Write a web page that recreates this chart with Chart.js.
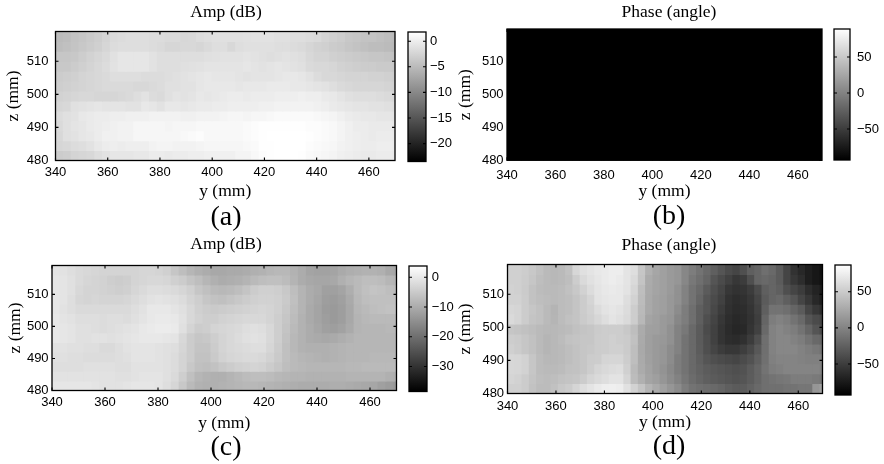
<!DOCTYPE html>
<html>
<head>
<meta charset="utf-8">
<title>Amp and phase maps</title>
<script src="https://cdn.jsdelivr.net/npm/chart.js@4"></script>
<style>
  body { margin: 0; background: #fff; }
  canvas { position: absolute; }
</style>
</head>
<body>
<script>
// grid of the scan, in mm
const yCols = [340,343,346,349,352,355,358,361,364,367,370,373,376,379,382,385,388,391,394,397,400,403,406,409,412,415,418,421,424,427,430,433,436,439,442,445,448,451,454,457,460,463,466,469];
const zEdges = [520,516,513,510,507,504,501,498,495,492,489,486,483,480];
const xTicks = [340,360,380,400,420,440,460];
const zTicks = [480,490,500,510];

const barTicksA = [0,-5,-10,-15,-20];
const barTicksB = [50,0,-50];
const barTicksC = [0,-10,-20,-30];
const barTicksD = [50,0,-50];

const climA = [-23.5,1.8];
const climB = [-93,89];
const climC = [-38.4,3.8];
const climD = [-93,87];

// rows run from the top of the plot (z = 519) to the bottom (z = 480)
const ampA = [
  [-4.9,-4.7,-4.2,-3.9,-3.5,-3.1,-2.5,-1.9,-1.7,-1.5,-1.5,-1.5,-1.7,-1.7,-1.9,-1.9,-2.2,-2.1,-1.7,-1.5,-1.3,-1.3,-1.3,-1.3,-1.2,-1.1,-1.1,-1.1,-1.3,-1.3,-1.5,-1.5,-1.7,-1.9,-2.5,-2.9,-3.2,-3.7,-3.9,-4.2,-4.2,-4.5,-4.7,-4.9],
  [-4.7,-4.5,-4.1,-3.7,-3.3,-2.9,-2.3,-1.7,-1.5,-1.5,-1.5,-1.5,-1.7,-1.9,-2.3,-2.3,-2.1,-2.1,-2.3,-1.9,-1.5,-1.5,-2.1,-1.5,-1.3,-1.3,-1.3,-1.3,-1.5,-1.5,-1.7,-1.9,-2.3,-2.7,-2.9,-3.3,-3.5,-3.9,-4.2,-4.5,-4.7,-4.7,-4.9,-5.1],
  [-3.9,-3.9,-3.7,-3.2,-2.7,-2.3,-1.9,-1.2,-0.7,-0.7,-0.7,-0.7,-1.1,-1.5,-1.5,-1.5,-1.5,-1.5,-1.5,-1.3,-1.2,-1.1,-1.1,-1.1,-0.9,-1.1,-1.3,-1.5,-1.3,-1.1,-1.3,-1.5,-2.1,-2.5,-2.5,-2.9,-3.1,-3.3,-3.5,-3.7,-3.9,-3.9,-4.1,-4.3],
  [-3.7,-3.7,-3.3,-2.9,-2.5,-2.1,-1.7,-1.1,-0.7,-0.7,-0.7,-0.7,-1.1,-1.5,-1.5,-1.5,-1.3,-1.2,-1.1,-0.9,-0.9,-0.9,-0.9,-0.9,-0.7,-0.9,-1.1,-0.9,-0.7,-0.9,-1.1,-1.3,-1.9,-2.1,-2.1,-2.3,-2.7,-2.9,-3.1,-3.3,-3.3,-3.5,-3.5,-3.7],
  [-3.3,-3.1,-2.9,-2.5,-2.3,-2.1,-1.9,-1.5,-1.5,-1.5,-1.5,-1.7,-1.7,-1.7,-1.5,-1.3,-1.1,-0.9,-0.7,-0.5,-0.7,-0.7,-0.7,-0.9,-1.1,-0.9,-0.9,-0.9,-0.7,-0.5,-0.5,-0.7,-1.1,-1.7,-2.1,-2.1,-2.3,-2.5,-2.5,-2.5,-2.7,-2.7,-2.9,-3.1],
  [-3.1,-2.9,-2.7,-2.5,-2.3,-2.1,-1.9,-1.9,-1.9,-1.9,-2.1,-2.1,-1.9,-1.7,-1.3,-1.3,-1.1,-1.1,-0.7,-0.5,-0.5,-0.5,-0.5,-0.7,-0.5,-0.5,-0.5,-0.3,-0.3,-0.3,-0.5,-0.5,-0.7,-0.9,-1.1,-1.5,-1.9,-2.1,-2.3,-2.3,-2.3,-2.3,-2.5,-2.7],
  [-2.7,-2.5,-2.3,-2.1,-2.1,-2.3,-2.3,-2.3,-2.1,-1.9,-1.5,-1.1,-1.7,-1.9,-1.3,-0.9,-1.1,-0.9,-0.5,-0.7,-0.5,-0.3,-0.1,-0.1,-0.3,-0.1,-0.1,-0.1,0.1,0.1,0.1,0.3,0.1,0.1,-0.3,-0.5,-0.9,-1.3,-1.5,-1.5,-1.5,-1.7,-1.9,-2.1],
  [-2.3,-2.1,-1.3,-1.1,-0.9,-0.7,-0.9,-0.9,-0.9,-1.1,-1.1,-0.5,-0.7,-1.1,-0.5,-0.5,-0.7,-0.5,-0.3,-0.3,-0.1,-0.1,0.1,0.1,0.1,0.1,0.3,0.3,0.5,0.5,0.5,0.5,0.5,0.3,0.1,-0.3,-0.5,-0.7,-0.9,-0.9,-1.1,-1.1,-1.3,-1.5],
  [-1.7,-1.3,-1.1,-0.5,-0.3,-0.1,-0.1,0.1,0.1,0.3,0.3,0.3,0.5,0.5,0.5,0.5,0.3,0.3,0.5,0.5,0.5,0.7,0.9,0.9,0.7,0.9,0.9,1.1,1.3,1.3,1.3,1.3,1.3,1.1,0.9,0.7,0.3,-0.1,-0.3,-0.5,-0.5,-0.7,-0.7,-0.9],
  [-1.9,-1.3,-0.9,-0.7,-0.3,-0.1,0.1,0.3,0.5,0.5,0.9,0.9,0.9,0.9,0.7,0.9,0.9,0.9,1.1,1.1,1.1,1.1,1.1,1.1,1.3,1.5,1.7,1.7,1.7,1.7,1.7,1.7,1.5,1.5,1.3,1.1,0.7,0.3,-0.1,-0.1,-0.3,-0.3,-0.3,-0.5],
  [-2.1,-1.3,-1.1,-0.7,-0.5,-0.1,0.3,0.3,0.5,0.5,0.9,0.9,0.9,0.9,0.9,0.9,1.1,1.3,1.5,1.1,1.1,1.1,1.1,1.1,1.3,1.5,1.7,1.8,1.8,1.8,1.8,1.8,1.7,1.5,1.3,1.1,0.7,0.3,0.1,-0.1,-0.3,-0.1,-0.1,-0.3],
  [-2.3,-2.1,-1.7,-1.5,-1.1,-0.5,-0.1,0.1,-0.1,0.1,0.1,0.1,0.5,0.7,0.7,0.5,0.5,0.5,0.7,0.9,0.9,0.9,0.9,0.9,1.1,1.3,1.7,1.7,1.8,1.8,1.8,1.8,1.5,1.3,1.1,0.9,0.5,0.3,0.1,-0.1,-0.1,0.1,0.1,-0.1],
  [-3.3,-3.1,-2.5,-2.3,-2.1,-1.5,-1.1,-0.7,-0.7,-0.7,-0.5,-0.5,-0.1,-0.1,-0.3,-0.1,-0.1,0.1,0.1,0.3,0.3,0.3,0.3,0.7,0.7,1.1,1.5,1.7,1.8,1.8,1.8,1.7,1.3,1.1,0.9,0.7,0.3,0.1,-0.1,-0.3,-0.3,-0.1,-0.1,-0.3]
];

const phaseB = [
  [-93,-93,-93,-93,-93,-93,-93,-93,-93,-93,-93,-93,-93,-93,-93,-93,-93,-93,-93,-93,-93,-93,-93,-93,-93,-93,-93,-93,-93,-93,-93,-93,-93,-93,-93,-93,-93,-93,-93,-93,-93,-93,-93,-93],
  [-93,-93,-93,-93,-93,-93,-93,-93,-93,-93,-93,-93,-93,-93,-93,-93,-93,-93,-93,-93,-93,-93,-93,-93,-93,-93,-93,-93,-93,-93,-93,-93,-93,-93,-93,-93,-93,-93,-93,-93,-93,-93,-93,-93],
  [-93,-93,-93,-93,-93,-93,-93,-93,-93,-93,-93,-93,-93,-93,-93,-93,-93,-93,-93,-93,-93,-93,-93,-93,-93,-93,-93,-93,-93,-93,-93,-93,-93,-93,-93,-93,-93,-93,-93,-93,-93,-93,-93,-93],
  [-93,-93,-93,-93,-93,-93,-93,-93,-93,-93,-93,-93,-93,-93,-93,-93,-93,-93,-93,-93,-93,-93,-93,-93,-93,-93,-93,-93,-93,-93,-93,-93,-93,-93,-93,-93,-93,-93,-93,-93,-93,-93,-93,-93],
  [-93,-93,-93,-93,-93,-93,-93,-93,-93,-93,-93,-93,-93,-93,-93,-93,-93,-93,-93,-93,-93,-93,-93,-93,-93,-93,-93,-93,-93,-93,-93,-93,-93,-93,-93,-93,-93,-93,-93,-93,-93,-93,-93,-93],
  [-93,-93,-93,-93,-93,-93,-93,-93,-93,-93,-93,-93,-93,-93,-93,-93,-93,-93,-93,-93,-93,-93,-93,-93,-93,-93,-93,-93,-93,-93,-93,-93,-93,-93,-93,-93,-93,-93,-93,-93,-93,-93,-93,-93],
  [-93,-93,-93,-93,-93,-93,-93,-93,-93,-93,-93,-93,-93,-93,-93,-93,-93,-93,-93,-93,-93,-93,-93,-93,-93,-93,-93,-93,-93,-93,-93,-93,-93,-93,-93,-93,-93,-93,-93,-93,-93,-93,-93,-93],
  [-93,-93,-93,-93,-93,-93,-93,-93,-93,-93,-93,-93,-93,-93,-93,-93,-93,-93,-93,-93,-93,-93,-93,-93,-93,-93,-93,-93,-93,-93,-93,-93,-93,-93,-93,-93,-93,-93,-93,-93,-93,-93,-93,-93],
  [-93,-93,-93,-93,-93,-93,-93,-93,-93,-93,-93,-93,-93,-93,-93,-93,-93,-93,-93,-93,-93,-93,-93,-93,-93,-93,-93,-93,-93,-93,-93,-93,-93,-93,-93,-93,-93,-93,-93,-93,-93,-93,-93,-93],
  [-93,-93,-93,-93,-93,-93,-93,-93,-93,-93,-93,-93,-93,-93,-93,-93,-93,-93,-93,-93,-93,-93,-93,-93,-93,-93,-93,-93,-93,-93,-93,-93,-93,-93,-93,-93,-93,-93,-93,-93,-93,-93,-93,-93],
  [-93,-93,-93,-93,-93,-93,-93,-93,-93,-93,-93,-93,-93,-93,-93,-93,-93,-93,-93,-93,-93,-93,-93,-93,-93,-93,-93,-93,-93,-93,-93,-93,-93,-93,-93,-93,-93,-93,-93,-93,-93,-93,-93,-93],
  [-93,-93,-93,-93,-93,-93,-93,-93,-93,-93,-93,-93,-93,-93,-93,-93,-93,-93,-93,-93,-93,-93,-93,-93,-93,-93,-93,-93,-93,-93,-93,-93,-93,-93,-93,-93,-93,-93,-93,-93,-93,-93,-93,-93],
  [-93,-93,-93,-93,-93,-93,-93,-93,-93,-93,-93,-93,-93,-93,-93,-93,-93,-93,-93,-93,-93,-93,-93,-93,-93,-93,-93,-93,-93,-93,-93,-93,-93,-93,-93,-93,-93,-93,-93,-93,-93,-93,-93,-93]
];

const ampC = [
  [-0.7,-1,-1.7,-2.3,-2.7,-3,-3.3,-3.3,-3.3,-3.3,-3.3,-3,-3,-3.3,-4,-5.6,-7,-8.3,-9.3,-9.9,-10.6,-10.6,-10.3,-10.3,-9.9,-9.3,-9,-8.3,-8,-8,-9,-9.9,-11.3,-11.6,-11.6,-11.3,-10.3,-9.6,-9.3,-9,-9,-9.3,-10.6,-10.9],
  [-0.3,-0.7,-1.3,-2.3,-3,-3.3,-3.6,-4.3,-4.6,-4.3,-3.3,-3,-2.7,-2.7,-3,-4,-4.6,-6,-7,-8.3,-9.3,-9.9,-9.6,-9.3,-8.6,-7.6,-7,-6.6,-6.6,-7.3,-8.6,-9.9,-10.6,-10.9,-10.9,-10.6,-9.3,-8.3,-7.6,-7,-7,-7.3,-8.3,-8.6],
  [-0.3,-0.7,-1.3,-2.7,-3.3,-3.3,-3.6,-4,-4.3,-4,-3,-2.3,-1.7,-1.7,-2,-2.3,-3,-4,-5.6,-6.6,-7.6,-8,-7.6,-7,-6,-4.6,-4,-4,-4.3,-5.3,-7,-8.6,-9.9,-10.6,-11.9,-11.9,-11.3,-9.6,-7.6,-6.6,-6,-6.3,-7,-7.3],
  [-0.3,-0.7,-1.7,-3,-3.3,-3,-3.3,-3.3,-3.3,-3,-2.3,-1.7,-1,-0.7,-1,-1.3,-2,-3.3,-4.3,-5.6,-6.3,-6.6,-6,-5.3,-4.6,-4,-3.6,-3.6,-4,-5,-6.6,-8.6,-9.9,-10.9,-12.3,-12.6,-11.9,-10.3,-8,-7,-6.6,-6.6,-6.6,-6.6],
  [-0.3,-1,-1.7,-2.3,-2.3,-2.3,-2.3,-2.3,-2.3,-2.3,-1.7,-1,0,0,0,-0.7,-1.3,-2.7,-4,-4.6,-5,-4.6,-4.3,-4,-3.6,-3.3,-3,-3.3,-4,-5.3,-7,-8.6,-10.3,-11.3,-12.6,-12.9,-12.3,-10.6,-8.3,-7.6,-7,-6.6,-6.3,-6.3],
  [0,-0.7,-1,-1.7,-1.7,-1.7,-2,-1.7,-1.7,-2,-1.3,-0.7,0,0.3,0.3,0,-1,-2.7,-3.6,-4.3,-4.3,-3.6,-3.3,-3,-2.7,-2.7,-2.7,-3.3,-4.3,-5.6,-7.3,-9,-10.3,-11.3,-12.3,-12.9,-12.3,-10.6,-8.6,-8,-7.6,-7.6,-7.6,-7.6],
  [0,-0.3,-0.7,-1.3,-1.3,-1.7,-2,-1.7,-1.3,-1,-0.7,0,0.3,0.7,0.7,0.3,-1.3,-3.3,-4.6,-4.3,-3.3,-3,-2.7,-2.3,-1.7,-1.3,-1.7,-2.7,-4.3,-6,-7.6,-9,-9.9,-10.9,-11.9,-12.3,-11.6,-10.3,-8.6,-8.3,-8.3,-8.3,-8,-8],
  [0,-0.3,-0.7,-1.3,-1.3,-1,-1,-1.3,-1,-0.7,-0.3,0,0,0,-0.3,-0.7,-2.7,-4.6,-5.6,-5.3,-4.3,-3.3,-2.7,-2,-1.3,-1,-1.3,-2.7,-4.3,-6.3,-8,-9,-9.9,-10.3,-10.6,-10.3,-9.6,-9,-8.3,-8.3,-8.3,-8.3,-8.3,-8.3],
  [-1,-1,-1.3,-1.3,-1.7,-1.7,-2.3,-2.3,-1.7,-1,-0.7,-0.7,-0.7,-1,-1.3,-1.7,-3,-4.6,-6,-6,-4.6,-3.3,-2.7,-2.3,-2,-1.7,-1.7,-3,-4.6,-6.6,-8,-9,-9.3,-9.3,-9.3,-9,-8.6,-8.3,-8.3,-8.3,-8.3,-8.3,-8.3,-8.3],
  [-1.3,-1.3,-1.7,-1.7,-2,-2,-2,-2,-1.7,-1.3,-0.7,-0.7,-0.7,-1,-1.3,-2,-3.3,-4.6,-6.3,-6.3,-5,-3.6,-3,-2.7,-2.3,-2.3,-2.7,-3.6,-5,-6.6,-7.6,-8.3,-8.6,-9,-9.3,-9,-8.6,-8.3,-8.3,-8.3,-8,-8,-8,-8],
  [-1.7,-1.7,-1.7,-1.7,-1.3,-1.3,-1.3,-1.3,-1.7,-1.7,-1,-1,-1,-1,-1.3,-2,-3.3,-5.3,-6.6,-7,-6.3,-5.3,-4.6,-4,-3.6,-3.3,-3.6,-4.6,-5.6,-7,-7.6,-8,-8.3,-8.3,-8.3,-8.3,-8.3,-8,-8,-7.6,-7.6,-7.6,-7.6,-7.6],
  [-1,-1,-1,-1,-1,-1,-1,-1,-1.3,-1.3,-1,-0.7,-0.7,-0.7,-1.3,-2.3,-4.3,-6.6,-8.3,-9,-9.3,-9.3,-8.6,-8,-7.3,-7,-7,-7.3,-8,-8.3,-8.6,-8.6,-9,-9,-9,-9,-9,-8.6,-8.6,-8.6,-8.6,-8.6,-9.3,-9.6],
  [-0.3,-0.3,-0.3,-0.3,-0.3,-0.7,-1,-1,-1,-0.7,-0.3,-0.3,-0.3,-0.7,-1.7,-3,-5.3,-7.6,-9,-9.3,-9.3,-9,-8.6,-8.3,-8,-8,-8.3,-8.6,-9,-9.3,-9.6,-9.9,-9.9,-9.9,-9.9,-9.6,-9.6,-9.9,-10.3,-10.6,-10.9,-11.9,-12.6,-13.2]
];

const phaseD = [
  [54,54,52,48,43,38,37,38,43,59,65,68,71,72,74,74,68,64,47,31,24,20,16,13,2,-5,-12,-19,-26,-33,-40,-44,-37,-26,-22,-15,-19,-29,-44,-58,-65,-72,-77,-82],
  [54,54,51,47,41,38,37,38,41,52,61,66,69,72,74,72,68,61,45,28,23,20,16,13,2,-8,-15,-22,-33,-40,-47,-54,-51,-37,-22,-19,-22,-29,-44,-54,-61,-72,-77,-80],
  [55,54,50,44,40,38,38,40,43,48,55,62,68,71,72,71,67,58,41,27,23,20,16,9,-1,-12,-19,-29,-37,-44,-54,-58,-56,-51,-40,-26,-22,-26,-37,-44,-51,-61,-68,-75],
  [55,55,51,44,41,40,38,40,41,45,51,57,67,69,71,71,64,55,40,26,21,19,14,9,-1,-12,-22,-33,-40,-47,-58,-61,-59,-54,-44,-29,-22,-19,-26,-33,-44,-54,-65,-72],
  [59,57,51,47,43,38,34,40,41,45,51,55,62,67,69,67,62,52,38,26,21,19,14,6,-5,-15,-26,-33,-42,-51,-59,-63,-61,-56,-47,-26,-12,-12,-15,-22,-29,-44,-54,-61],
  [61,57,51,45,43,38,35,40,43,45,50,54,59,64,68,65,61,52,37,23,20,16,13,2,-5,-15,-26,-37,-45,-54,-61,-65,-63,-58,-49,-22,-5,-1,-5,-12,-19,-33,-40,-45],
  [47,45,43,41,38,37,37,38,40,43,45,47,50,52,52,52,48,41,28,20,19,16,9,-1,-8,-19,-29,-40,-47,-56,-63,-66,-65,-56,-47,-19,-1,2,-1,-5,-12,-22,-33,-40],
  [52,50,47,43,38,35,37,40,44,45,47,47,51,52,54,52,50,43,27,19,16,14,9,-1,-12,-19,-29,-38,-47,-56,-61,-63,-59,-51,-38,-15,-1,2,2,-1,-5,-12,-19,-22],
  [54,51,47,43,38,35,37,38,41,44,47,48,51,52,54,54,50,41,26,19,16,13,6,-1,-12,-19,-28,-37,-44,-51,-54,-54,-49,-42,-31,-15,-1,2,2,2,-1,-5,-8,-12],
  [59,58,55,47,40,37,37,38,41,44,47,51,52,57,58,58,52,41,27,20,16,13,6,-5,-12,-19,-26,-33,-37,-40,-42,-44,-40,-35,-26,-14,-3,0,0,0,-1,-3,-3,-3],
  [59,58,55,47,40,38,38,40,43,44,47,52,57,60,62,64,54,38,28,21,16,11,4,-5,-12,-19,-24,-28,-31,-33,-35,-37,-35,-29,-22,-12,-5,-3,0,0,0,0,0,-3],
  [57,55,51,45,41,40,41,44,45,47,51,57,61,64,67,67,57,40,31,23,19,13,6,-1,-10,-17,-22,-26,-29,-31,-33,-35,-33,-28,-22,-15,-12,-10,-8,-5,-5,-5,-7,-10],
  [54,54,51,44,40,40,43,48,51,57,64,68,72,75,76,74,66,55,45,34,27,20,13,6,-5,-12,-15,-17,-19,-22,-26,-29,-28,-24,-19,-15,-14,-14,-12,-12,-10,-10,13,20]
];

const panels = [
  { title: "Amp (dB)", letter: "(a)", rows: ampA, clim: climA, barTicks: barTicksA, zMax: 519,
    left: 0, top: 0, width: 452, plot: { l: 55.5, r: 395, t: 31.5, b: 160.5 }, bar: { l: 408, r: 426, t: 31.5, b: 161 },
    titleY: 12.3, xTickY: 171, xLabelY: 191, letterY: 218, zLabelX: 13.3, zTickGap: 7, barGap: 4 },
  { title: "Phase (angle)", letter: "(b)", rows: phaseB, clim: climB, barTicks: barTicksB, zMax: 520,
    left: 455, top: 0, width: 428, plot: { l: 507, r: 822, t: 29, b: 160 }, bar: { l: 834, r: 850, t: 29, b: 160 },
    titleY: 12, xTickY: 174, xLabelY: 190.7, letterY: 216.7, zLabelX: 465.3, zTickGap: 3.4, barGap: 7 },
  { title: "Amp (dB)", letter: "(c)", rows: ampC, clim: climC, barTicks: barTicksC, zMax: 519,
    left: 0, top: 232, width: 452, plot: { l: 52, r: 396.5, t: 265.5, b: 390.5 }, bar: { l: 409, r: 427, t: 265.5, b: 391 },
    titleY: 244.7, xTickY: 400.7, xLabelY: 423, letterY: 448, zLabelX: 15, zTickGap: 3.4, barGap: 4.7 },
  { title: "Phase (angle)", letter: "(d)", rows: phaseD, clim: climD, barTicks: barTicksD, zMax: 519,
    left: 455, top: 232, width: 428, plot: { l: 507.5, r: 822.5, t: 264.5, b: 393.5 }, bar: { l: 835, r: 851, t: 264.5, b: 394.5 },
    titleY: 245.3, xTickY: 405.3, xLabelY: 422, letterY: 447, zLabelX: 465.3, zTickGap: 3.4, barGap: 6 }
];

const SANS = "'Liberation Sans', Arial, sans-serif";
const SERIF = "'Liberation Serif', 'Times New Roman', serif";
const TICK_SIZE = 13;
const LABEL_SIZE = 17.5;
const LETTER_SIZE = 28;

function grayFor(value, clim) {
  const level = Math.round(255 * (value - clim[0]) / (clim[1] - clim[0]));
  const g = Math.max(0, Math.min(255, level));
  return "rgb(" + g + "," + g + "," + g + ")";
}

function addCanvas(left, top, width, height) {
  const canvas = document.createElement("canvas");
  canvas.width = width;
  canvas.height = height;
  canvas.style.left = left + "px";
  canvas.style.top = top + "px";
  document.body.appendChild(canvas);
  return canvas;
}

// matlab style box: frame plus short ticks pointing inwards on all sides
const boxFrame = {
  id: "boxFrame",
  afterDatasetsDraw(chart) {
    const { ctx, chartArea: a, scales } = chart;
    const len = 3;
    ctx.save();
    ctx.strokeStyle = "#000";
    ctx.lineWidth = 1.1;
    ctx.beginPath();
    if (scales.x.options.display) {
      scales.x.ticks.forEach((t) => {
        const px = scales.x.getPixelForValue(t.value);
        ctx.moveTo(px, a.top);
        ctx.lineTo(px, a.top + len);
        ctx.moveTo(px, a.bottom);
        ctx.lineTo(px, a.bottom - len);
      });
    }
    scales.y.ticks.forEach((t) => {
      const py = scales.y.getPixelForValue(t.value);
      ctx.moveTo(a.left, py);
      ctx.lineTo(a.left + len, py);
      ctx.moveTo(a.right, py);
      ctx.lineTo(a.right - len, py);
    });
    ctx.stroke();
    ctx.lineWidth = 1.3;
    ctx.strokeRect(a.left, a.top, a.right - a.left, a.bottom - a.top);
    ctx.restore();
  },
};

function drawHeatmap(p) {
  const height = Math.round(p.letterY + LETTER_SIZE / 2 - p.top);
  const canvas = addCanvas(p.left, p.top, p.width, height);
  const titlePadTop = p.titleY - LABEL_SIZE / 2 - p.top;
  const letterTop = p.letterY - LETTER_SIZE / 2;

  // one floating-bar dataset per z row
  const datasets = p.rows.map((row, r) => ({
    data: row.map((v, c) => ({ x: yCols[c] + 1.5, y: [zEdges[r + 1], zEdges[r]] })),
    backgroundColor: row.map((v) => grayFor(v, p.clim)),
    borderWidth: 0,
    inflateAmount: 0.5,
    barPercentage: 1,
    categoryPercentage: 1,
    grouped: false,
  }));

  new Chart(canvas, {
    type: "bar",
    data: { datasets: datasets },
    plugins: [boxFrame],
    options: {
      responsive: false,
      animation: false,
      events: [],
      layout: { padding: 0 },
      plugins: {
        legend: { display: false },
        tooltip: { enabled: false },
        title: {
          display: true,
          text: p.title,
          color: "#000",
          font: { family: SERIF, size: LABEL_SIZE, weight: "normal", lineHeight: 1 },
          padding: { top: titlePadTop, bottom: p.plot.t - p.top - titlePadTop - LABEL_SIZE },
        },
        subtitle: {
          display: true,
          position: "bottom",
          text: p.letter,
          color: "#000",
          font: { family: SERIF, size: LETTER_SIZE, weight: "normal", lineHeight: 1 },
          padding: 0,
        },
      },
      scales: {
        x: {
          type: "linear",
          offset: false,
          min: 340,
          max: 470,
          grid: { display: false, drawTicks: false },
          border: { display: false },
          afterBuildTicks: (s) => { s.ticks = xTicks.map((v) => ({ value: v })); },
          afterFit: (s) => { s.height = letterTop - p.plot.b; },
          ticks: {
            autoSkip: false,
            maxRotation: 0,
            color: "#000",
            padding: p.xTickY - p.plot.b - TICK_SIZE / 2,
            font: { family: SANS, size: TICK_SIZE },
          },
          title: {
            display: true,
            text: "y (mm)",
            color: "#000",
            font: { family: SERIF, size: LABEL_SIZE, lineHeight: 1 },
            padding: { top: 0, bottom: letterTop - p.xLabelY - LABEL_SIZE / 2 },
          },
        },
        y: {
          type: "linear",
          position: "left",
          min: 480,
          max: p.zMax,
          grid: { display: false, drawTicks: false },
          border: { display: false },
          afterBuildTicks: (s) => { s.ticks = zTicks.map((v) => ({ value: v })); },
          afterFit: (s) => { s.width = p.plot.l - p.left; },
          ticks: {
            autoSkip: false,
            color: "#000",
            padding: p.zTickGap,
            font: { family: SANS, size: TICK_SIZE },
          },
          title: {
            display: true,
            text: "z (mm)",
            color: "#000",
            font: { family: SERIF, size: LABEL_SIZE, lineHeight: 1 },
            padding: { top: p.zLabelX - p.left - LABEL_SIZE / 2, bottom: 0 },
          },
        },
        // empty axis, only keeps the title centred on the canvas
        spacer: {
          axis: "y",
          position: "right",
          grid: { display: false, drawTicks: false },
          border: { display: false },
          ticks: { display: false },
          afterFit: (s) => { s.width = p.left + p.width - p.plot.r; },
        },
      },
    },
  });
}

function drawColorbar(p) {
  const left = p.bar.l - 4;
  const top = p.bar.t - 6;
  const width = 62;
  const height = Math.round(p.bar.b - p.bar.t + 12);
  const canvas = addCanvas(left, top, width, height);
  const labels = [""];

  new Chart(canvas, {
    type: "bar",
    data: {
      labels: labels,
      datasets: [
        {
          data: [p.clim],
          barPercentage: 1,
          categoryPercentage: 1,
          borderWidth: 0,
          backgroundColor: (ctx) => {
            const area = ctx.chart.chartArea;
            if (!area) return "#888";
            const ramp = ctx.chart.ctx.createLinearGradient(0, area.bottom, 0, area.top);
            ramp.addColorStop(0, "#000");
            ramp.addColorStop(1, "#fff");
            return ramp;
          },
        },
      ],
    },
    plugins: [boxFrame],
    options: {
      responsive: false,
      animation: false,
      events: [],
      layout: { padding: { left: 4, top: 6, bottom: height - 6 - (p.bar.b - p.bar.t), right: 0 } },
      plugins: { legend: { display: false }, tooltip: { enabled: false } },
      scales: {
        x: { display: false },
        y: {
          position: "right",
          min: p.clim[0],
          max: p.clim[1],
          grid: { display: false, drawTicks: false },
          border: { display: false },
          afterBuildTicks: (s) => { s.ticks = p.barTicks.map((v) => ({ value: v })); },
          afterFit: (s) => {
            s.width = width - 4 - (p.bar.r - p.bar.l);
            s.paddingTop = 0;
            s.paddingBottom = 0;
          },
          ticks: {
            autoSkip: false,
            color: "#000",
            padding: p.barGap,
            font: { family: SANS, size: TICK_SIZE },
            callback: (v) => String(v).replace("-", "\u2212"),
          },
        },
      },
    },
  });
}

panels.forEach((p) => {
  drawHeatmap(p);
  drawColorbar(p);
});
</script>
</body>
</html>
